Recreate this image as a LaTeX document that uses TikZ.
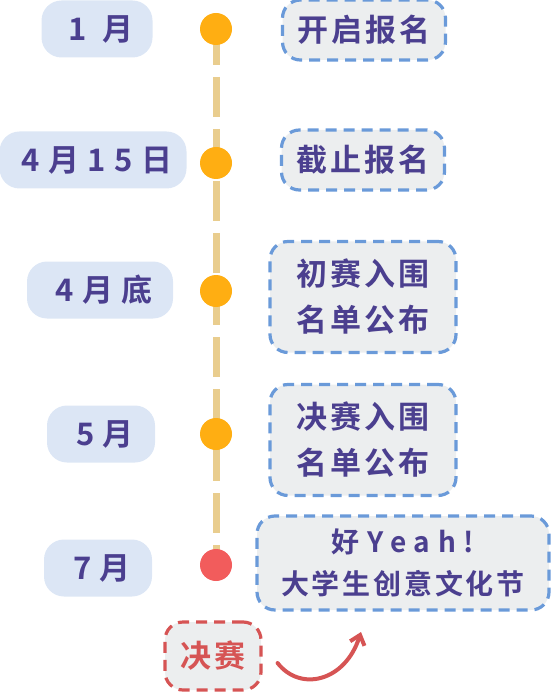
\documentclass[tikz,border=0pt]{standalone}
\usepackage{fontspec}
\setmainfont{Noto Sans CJK SC}[BoldFont={Noto Sans CJK SC Black}]
\newfontfamily\cjk{Noto Sans CJK SC Black}[LetterSpace=10]
\newfontfamily\datefont{Noto Sans CJK SC Black}[LetterSpace=28]
\usetikzlibrary{arrows.meta, positioning, backgrounds}
\definecolor{textcolor}{RGB}{75,63,143}
\definecolor{pillcolor}{RGB}{220,230,245}
\definecolor{dotcolor}{RGB}{255,174,18}
\definecolor{lastdot}{RGB}{242,92,92}
\definecolor{linecolor}{RGB}{233,205,142}
\definecolor{boxfill}{RGB}{236,238,239}
\definecolor{boxline}{RGB}{106,154,217}
\definecolor{redcolor}{RGB}{214,84,84}

\begin{document}
\begin{tikzpicture}[
    x=1pt, y=-1pt,
    >={Straight Barb[length=9pt, width=15pt]},
    pill/.style={fill=pillcolor, rounded corners=20pt, minimum height=57pt, inner sep=0pt, font=\datefont\bfseries\fontsize{31}{46}\selectfont, text=textcolor},
    dot/.style={circle, fill=dotcolor, minimum size=32pt, inner sep=0pt},
    event/.style={draw=boxline, fill=boxfill, line width=3.2pt, dash pattern=on 11pt off 7pt, rounded corners=18pt, inner sep=0pt, align=center, font=\cjk\bfseries\fontsize{31}{46}\selectfont, text=textcolor},
]
    \useasboundingbox (0,0) rectangle (550,692);

    % dots on the time line
    \node[dot] (d1) at (216,29) {};
    \node[dot] (d2) at (216,163) {};
    \node[dot] (d3) at (216,291) {};
    \node[dot] (d4) at (216,434) {};
    \node[dot, fill=lastdot] (d5) at (216,565) {};

    % dates
    \node[pill, minimum width=111pt] (m1) at (97,29) {\hspace{8pt}1 月};
    \node[pill, minimum width=187pt] (m2) at (93,160) {\hspace{8pt}4月15日};
    \node[pill, minimum width=146pt] (m3) at (100,290) {\hspace{8pt}4月底};
    \node[pill, minimum width=108pt] (m4) at (101,434) {\hspace{8pt}5月};
    \node[pill, minimum width=108pt] (m5) at (98,568) {\hspace{8pt}7月};

    % events
    \node[event, minimum width=163pt, minimum height=60pt] (e1) at (364,30) {开启报名};
    \node[event, minimum width=163pt, minimum height=60pt] (e2) at (363,160) {截止报名};
    \node[event, minimum width=186pt, minimum height=111pt] (e3) at (363,297) {初赛入围\\名单公布};
    \node[event, minimum width=186pt, minimum height=111pt] (e4) at (363,440) {决赛入围\\名单公布};
    \node[event, minimum width=292pt, minimum height=94pt, font=\cjk\bfseries\fontsize{28}{42}\selectfont] (e5) at (403,563) {{\datefont 好Yeah!}\\大学生创意文化节};
    \node[event, draw=redcolor, text=redcolor, minimum width=96pt, minimum height=68pt] (final) at (213,656) {决赛};

    % time line
    \begin{scope}[on background layer]
        \draw[linecolor, line width=7pt, dash pattern=on 40pt off 12pt, dash phase=4pt] (d1.center) -- (d5.center);
    \end{scope}

    \coordinate (tip) at (361,632);
    \draw[->, line width=4pt, redcolor, line cap=round] ([xshift=15pt, yshift=-7pt]final.east) .. controls (300,692) and (345,682) .. (tip);
\end{tikzpicture}
\end{document}
